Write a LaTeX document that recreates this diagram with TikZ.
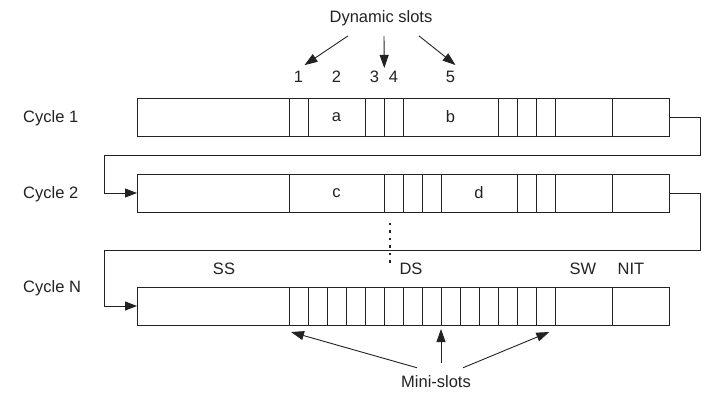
\documentclass[tikz,border=0pt]{standalone}
\usepackage{fontspec}
\setmainfont{Liberation Sans}
\usetikzlibrary{arrows.meta,calc}
\definecolor{ink}{HTML}{222222}
\begin{document}
\begin{tikzpicture}[x=1pt,y=-1pt,
  bar/.style={draw=ink,line width=0.9pt,minimum width=532pt,minimum height=38pt,inner sep=0pt,outer sep=0pt},
  txt/.style={font=\fontsize{16.5}{16.5}\selectfont,text=ink,inner sep=0pt},
  conn/.style={draw=ink,line width=1pt},
  tip/.style={-{Triangle[length=12pt,width=9pt]}},
  callout/.style={draw=ink,line width=0.9pt,-{Triangle[length=13pt,width=9pt]}}]
\useasboundingbox (0,0) rectangle (712,397);
\def\u{19}
% the three cycles
\node[bar] (c1) at (403,117) {};
\node[bar] (c2) at (403,193) {};
\node[bar] (cn) at (403,306) {};
% slot boundaries, in mini-slot units from the left edge
\foreach \k in {8,9,12,13,14,19,20,21,22,25}
  \draw[ink,line width=0.9pt] ($(c1.north west)+(\k*\u,0)$) -- ($(c1.south west)+(\k*\u,0)$);
\foreach \k in {8,13,14,15,16,20,21,22,25}
  \draw[ink,line width=0.9pt] ($(c2.north west)+(\k*\u,0)$) -- ($(c2.south west)+(\k*\u,0)$);
\foreach \k in {8,...,22,25}
  \draw[ink,line width=0.9pt] ($(cn.north west)+(\k*\u,0)$) -- ($(cn.south west)+(\k*\u,0)$);
% frames in the slots
\node[txt] (fa) at ($(c1.west)+(10.5*\u,0)$) {a};
\node[txt] (fb) at ($(c1.west)+(16.5*\u,0)$) {b};
\node[txt] (fc) at ($(c2.west)+(10.5*\u,0)$) {c};
\node[txt] (fd) at ($(c2.west)+(18*\u,0)$) {d};
% cycle labels
\node[txt,anchor=west] (l1) at (23,118) {Cycle 1};
\node[txt,anchor=west] (l2) at (23,194) {Cycle 2};
\node[txt,anchor=west] (ln) at (23,288) {Cycle N};
% segment labels
\node[txt] (ss) at (224,269) {SS};
\node[txt] (ds) at (411,269) {DS};
\node[txt] (sw) at (583,269) {SW};
\node[txt] (nit) at (631,269) {NIT};
% dynamic slot numbers
\node[txt] (dyn) at (381,18) {Dynamic slots};
\node[txt] (n1) at ($(c1.north west)+(8.5*\u,-21)$) {1};
\node[txt] (n2) at ($(c1.north west)+(10.5*\u,-21)$) {2};
\node[txt] (n3) at ($(c1.north west)+(12.5*\u,-21)$) {3};
\node[txt] (n4) at ($(c1.north west)+(13.5*\u,-21)$) {4};
\node[txt] (n5) at ($(c1.north west)+(16.5*\u,-21)$) {5};
\draw[callout] ($(dyn.south)+(-33,10)$) -- ($(n1.north)+(6,-6)$);
\draw[callout] ($(dyn.south)+(3,10)$) -- ($(n3.north east)+(5,-3)$);
\draw[callout] ($(dyn.south)+(38,10)$) -- ($(n5.north)+(5,-6)$);
% links from one cycle to the next
\coordinate (r1) at (700,155);
\coordinate (w1) at (104,155);
\coordinate (r2) at (700,250);
\coordinate (w2) at (104,250);
\draw[conn,tip] (c1.east) -| (r1) -- (w1) |- (c2.west);
\draw[conn,tip] (c2.east) -| (r2) -- (w2) |- (cn.west);
% omitted cycles
\foreach \yy in {224,231.5,239,246.5,254,261.5}
  \fill[ink] (388.8,\yy-1.1) rectangle (391.2,\yy+1.1);
% mini-slot callouts
\node[txt] (ms) at (436,382) {Mini-slots};
\draw[callout] ($(ms.north west)+(16,-8)$) -- ($(cn.south west)+(8*\u+2,7)$);
\draw[callout] ($(ms.north)+(5,-13)$) -- ($(cn.south west)+(16*\u,4)$);
\draw[callout] ($(ms.north east)+(-8,-8)$) -- ($(cn.south west)+(21.7*\u,7)$);
\end{tikzpicture}
\end{document}
